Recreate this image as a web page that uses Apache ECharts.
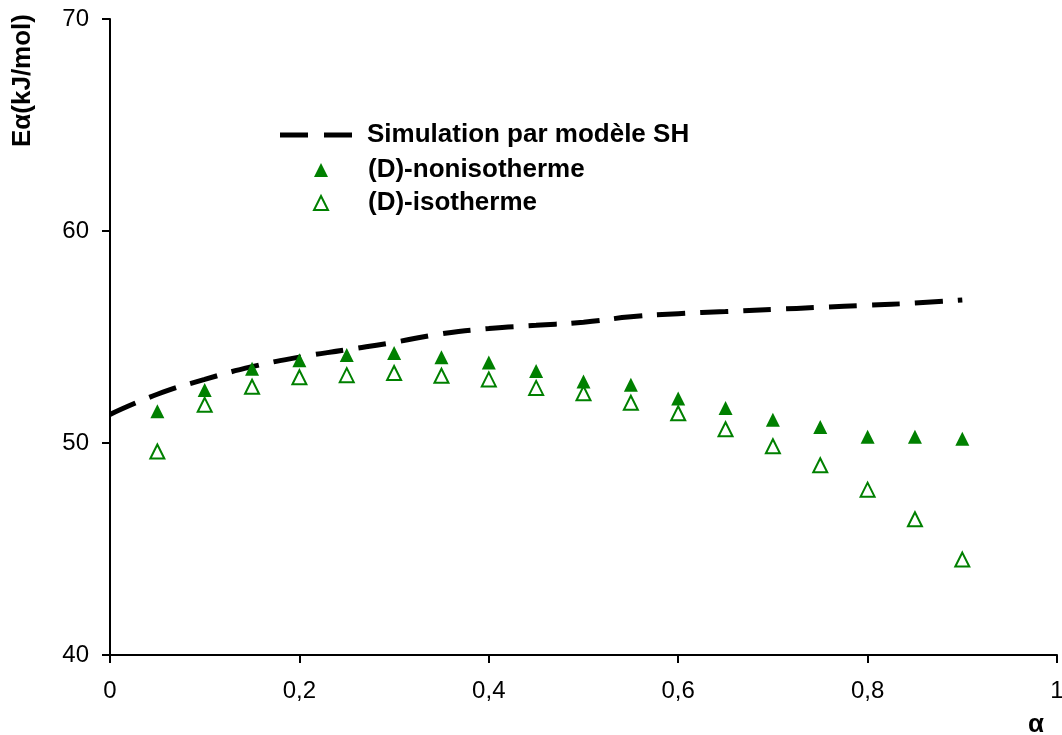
<!DOCTYPE html>
<html>
<head>
    <meta charset="utf-8">
    <title>Ea en fonction de alpha</title>
    <script src="https://cdn.jsdelivr.net/npm/echarts@6/dist/echarts.min.js"></script>
    <style>
        html, body { margin: 0; padding: 0; background: #fff; }
        #main { width: 1062px; height: 735px; }
    </style>
</head>
<body>
<div id="main"></div>
<script type="text/javascript">
    // valeurs
    var simAlpha = [0, 0.05, 0.1, 0.15, 0.2, 0.25, 0.3, 0.35, 0.4, 0.45, 0.5, 0.55, 0.6, 0.65, 0.7, 0.75, 0.8, 0.85, 0.9];
    var simE = [51.35, 52.3, 53.0, 53.6, 54.05, 54.4, 54.75, 55.15, 55.4, 55.55, 55.7, 55.95, 56.1, 56.2, 56.3, 56.4, 56.5, 56.6, 56.75];

    var alpha = [0.05, 0.1, 0.15, 0.2, 0.25, 0.3, 0.35, 0.4, 0.45, 0.5, 0.55, 0.6, 0.65, 0.7, 0.75, 0.8, 0.85, 0.9];
    var nonIso = [51.5, 52.5, 53.5, 53.9, 54.15, 54.25, 54.05, 53.8, 53.4, 52.9, 52.75, 52.1, 51.65, 51.1, 50.75, 50.3, 50.3, 50.2];
    var iso = [49.6, 51.8, 52.65, 53.1, 53.2, 53.3, 53.17, 53.0, 52.6, 52.35, 51.9, 51.4, 50.65, 49.85, 48.95, 47.8, 46.4, 44.5];

    var xTicks = [0, 0.2, 0.4, 0.6, 0.8, 1];
    var yTicks = [40, 50, 60, 70];

    var font = "'Liberation Sans', Arial, sans-serif";
    var green = '#008000';

    function pairs(xs, ys) {
        return xs.map(function (x, i) { return [x, ys[i]]; });
    }

    var myChart = echarts.init(document.getElementById('main'));

    var option = {
        backgroundColor: '#fff',
        animation: false,
        grid: {
            left: 110,
            right: 5,
            top: 19,
            bottom: 80,
            containLabel: false,
            outerBoundsMode: 'none'
        },
        xAxis: {
            type: 'value',
            min: xTicks[0],
            max: xTicks[xTicks.length - 1],
            interval: 0.2,
            axisLine: { lineStyle: { color: '#000', width: 2 } },
            axisTick: { show: true, inside: false, length: 8, lineStyle: { color: '#000', width: 2 } },
            axisLabel: {
                margin: 24,
                color: '#000',
                fontFamily: font,
                fontSize: 24,
                formatter: function (v) {
                    return String(+v.toFixed(1)).replace('.', ',');
                }
            },
            splitLine: { show: false }
        },
        yAxis: {
            type: 'value',
            min: yTicks[0],
            max: yTicks[yTicks.length - 1],
            interval: 10,
            axisLine: { show: true, lineStyle: { color: '#000', width: 2 } },
            axisTick: { show: true, inside: false, length: 8, lineStyle: { color: '#000', width: 2 } },
            axisLabel: {
                margin: 21,
                color: '#000',
                fontFamily: font,
                fontSize: 24
            },
            splitLine: { show: false }
        },
        legend: [
            {
                // tirets de la légende dessinés comme un chemin
                data: [{
                    name: 'Simulation par modèle SH',
                    icon: 'path://M0,0H28V5H0Z M44,0H72V5H44Z'
                }],
                left: 275,
                top: 117,
                itemWidth: 72,
                itemHeight: 14,
                itemStyle: { color: '#000' },
                textStyle: {
                    color: '#000',
                    fontFamily: font,
                    fontSize: 26,
                    fontWeight: 'bold',
                    padding: [0, 0, 0, 10]
                }
            },
            {
                data: ['(D)-nonisotherme', '(D)-isotherme'],
                orient: 'vertical',
                left: 308,
                top: 152,
                itemWidth: 14,
                itemHeight: 14,
                itemGap: 7,
                textStyle: {
                    color: '#000',
                    fontFamily: font,
                    fontSize: 26,
                    fontWeight: 'bold',
                    padding: [0, 0, 0, 35]
                }
            }
        ],
        graphic: [
            {
                type: 'text',
                left: 10,
                top: 14,
                rotation: Math.PI / 2,
                style: {
                    text: 'Eα(kJ/mol)',
                    fill: '#000',
                    font: 'bold 26px ' + font
                }
            },
            {
                type: 'text',
                left: 1028,
                top: 712,
                style: {
                    text: 'α',
                    fill: '#000',
                    font: 'bold 26px ' + font
                }
            }
        ],
        series: [
            {
                name: 'Simulation par modèle SH',
                type: 'line',
                data: pairs(simAlpha, simE),
                smooth: true,
                symbol: 'none',
                showSymbol: false,
                lineStyle: { color: '#000', width: 5, type: [28, 15] },
                itemStyle: { color: '#000' },
                z: 1
            },
            {
                name: '(D)-nonisotherme',
                type: 'scatter',
                data: pairs(alpha, nonIso),
                symbol: 'triangle',
                symbolSize: 14,
                itemStyle: { color: green, opacity: 1 },
                z: 3
            },
            {
                name: '(D)-isotherme',
                type: 'scatter',
                data: pairs(alpha, iso),
                symbol: 'triangle',
                symbolSize: 14,
                itemStyle: { color: '#fff', borderColor: green, borderWidth: 2, opacity: 1 },
                z: 3
            }
        ]
    };

    myChart.setOption(option);
</script>
</body>
</html>
